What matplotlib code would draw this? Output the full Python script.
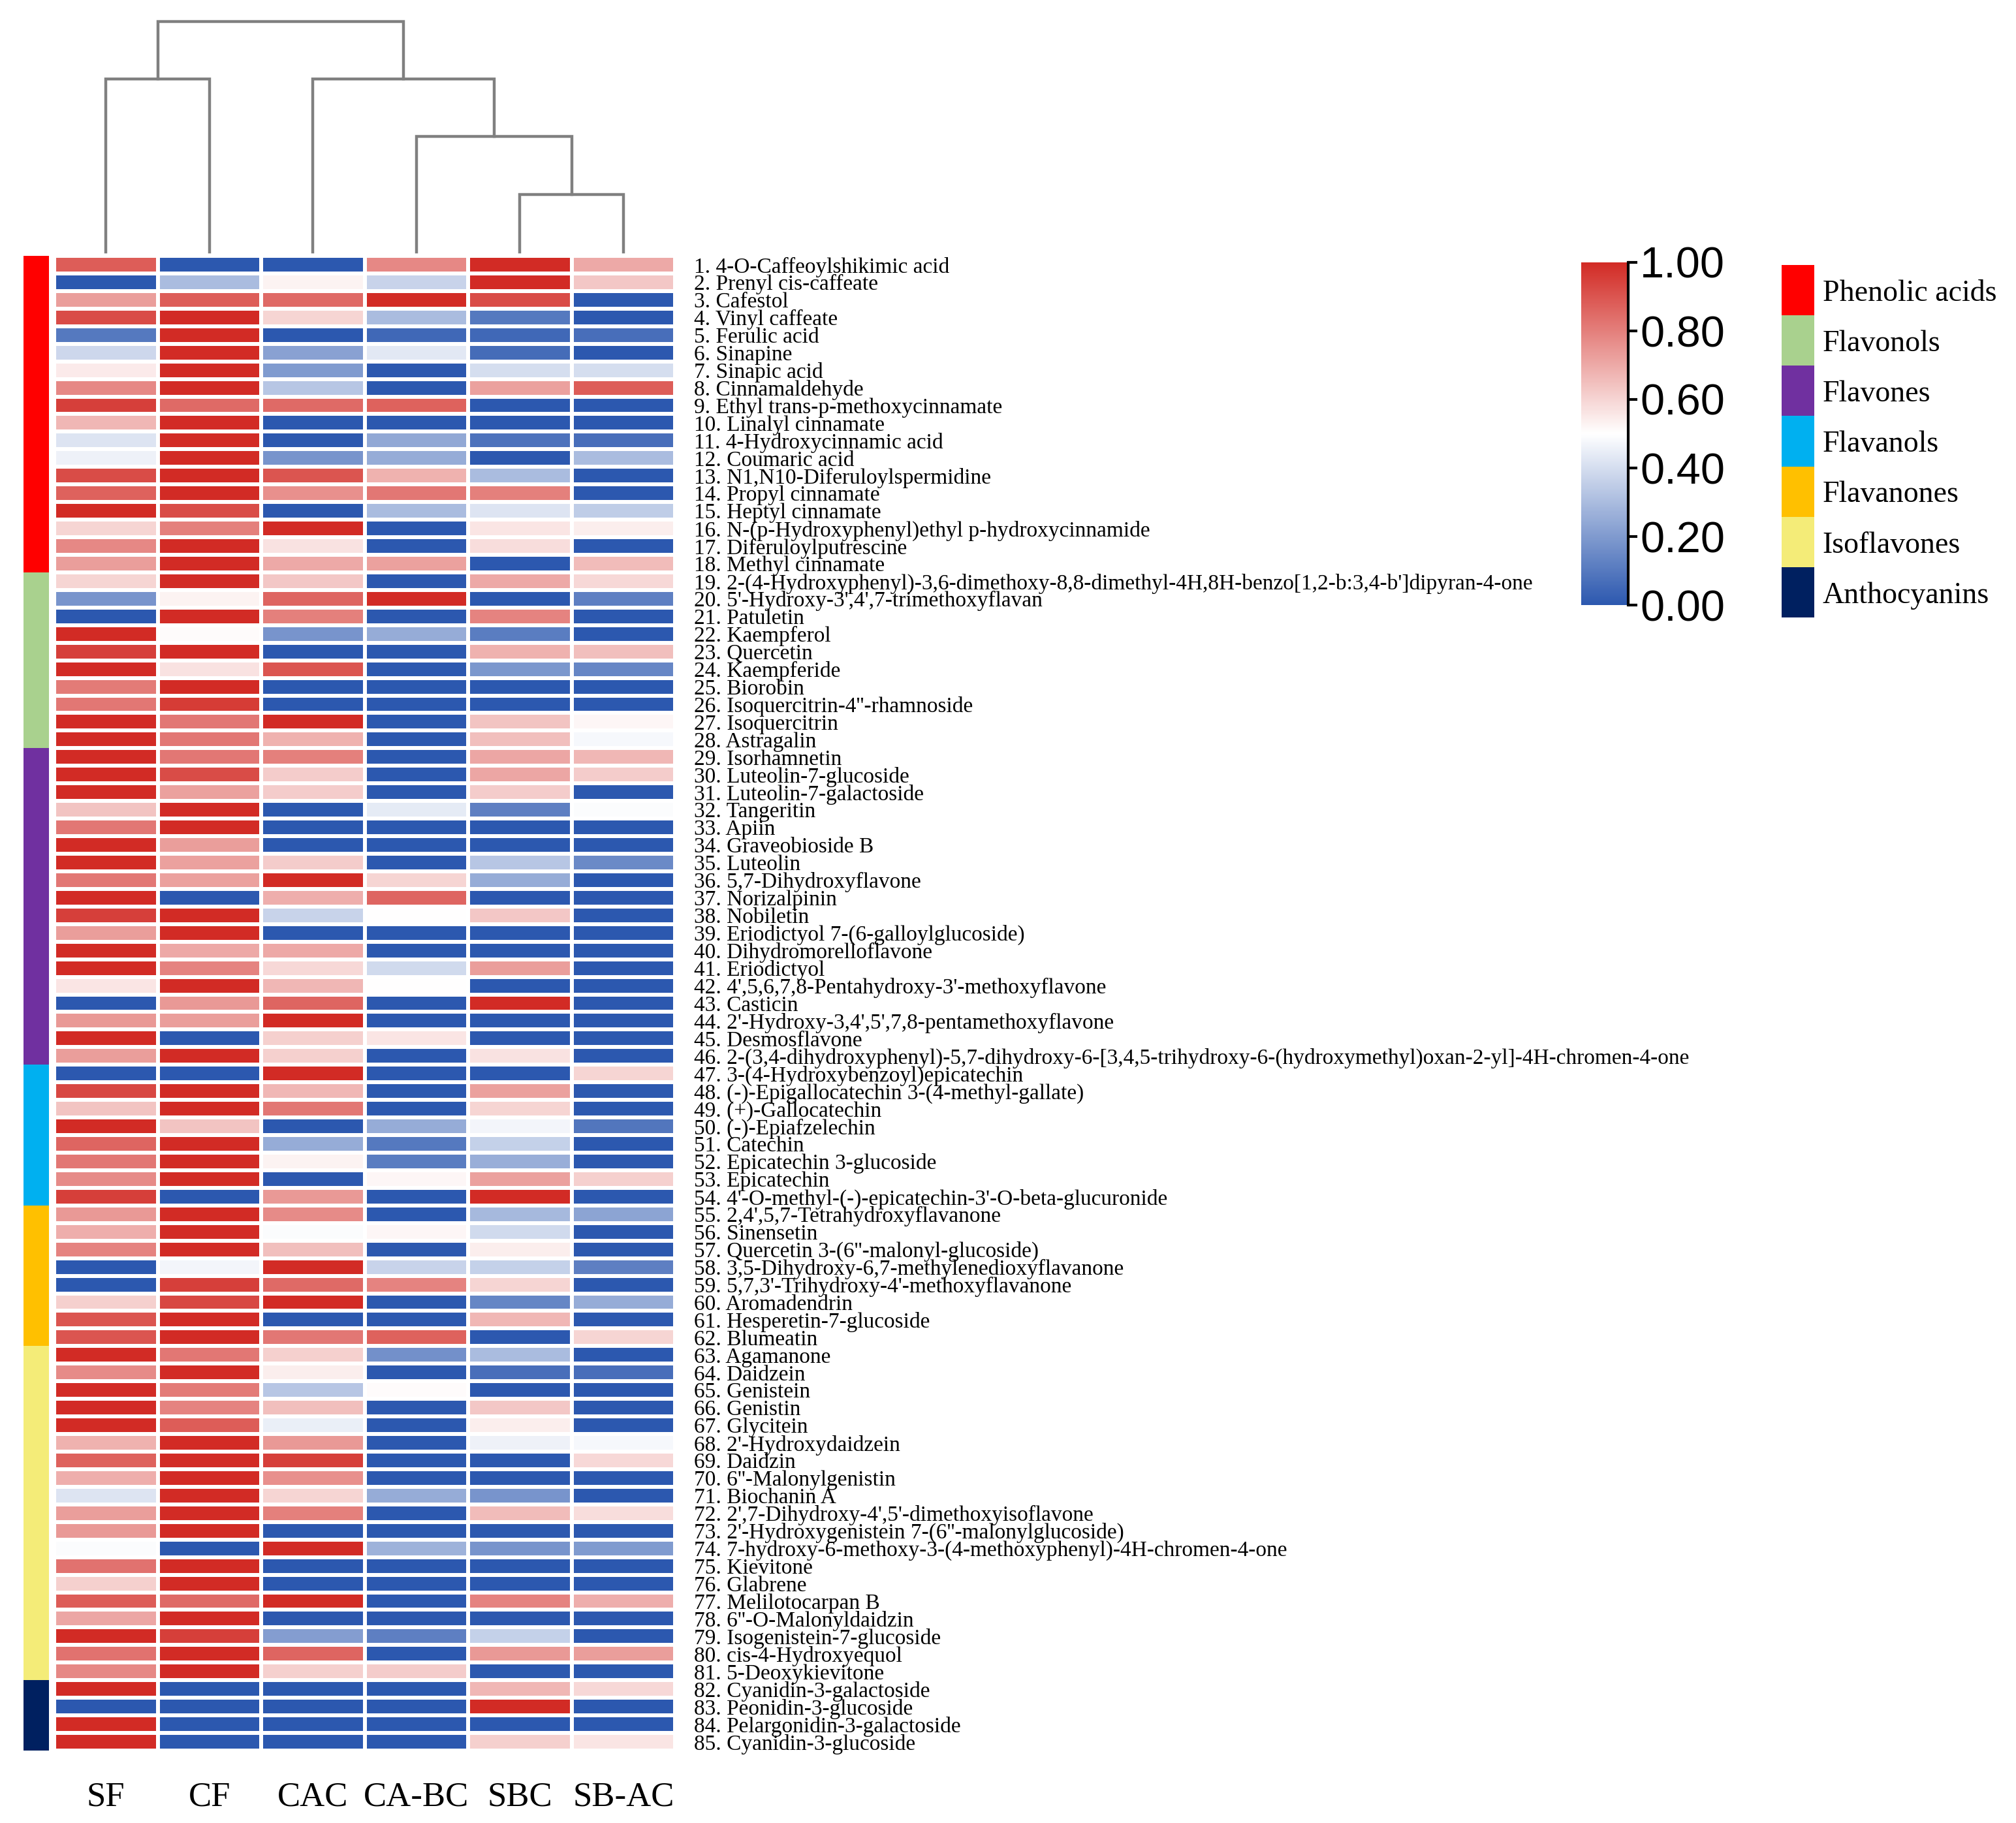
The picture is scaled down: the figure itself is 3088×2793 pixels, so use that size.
import numpy as np
import matplotlib.pyplot as plt
from matplotlib.colors import LinearSegmentedColormap, ListedColormap

samples = ["SF", "CF", "CAC", "CA-BC", "SBC", "SB-AC"]

compounds = [
    "4-O-Caffeoylshikimic acid", "Prenyl cis-caffeate", "Cafestol", "Vinyl caffeate",
    "Ferulic acid", "Sinapine", "Sinapic acid", "Cinnamaldehyde",
    "Ethyl trans-p-methoxycinnamate", "Linalyl cinnamate", "4-Hydroxycinnamic acid",
    "Coumaric acid", "N1,N10-Diferuloylspermidine", "Propyl cinnamate", "Heptyl cinnamate",
    "N-(p-Hydroxyphenyl)ethyl p-hydroxycinnamide", "Diferuloylputrescine", "Methyl cinnamate",
    "2-(4-Hydroxyphenyl)-3,6-dimethoxy-8,8-dimethyl-4H,8H-benzo[1,2-b:3,4-b']dipyran-4-one",
    "5'-Hydroxy-3',4',7-trimethoxyflavan", "Patuletin", "Kaempferol", "Quercetin",
    "Kaempferide", "Biorobin", "Isoquercitrin-4''-rhamnoside", "Isoquercitrin", "Astragalin",
    "Isorhamnetin", "Luteolin-7-glucoside", "Luteolin-7-galactoside", "Tangeritin", "Apiin",
    "Graveobioside B", "Luteolin", "5,7-Dihydroxyflavone", "Norizalpinin", "Nobiletin",
    "Eriodictyol 7-(6-galloylglucoside)", "Dihydromorelloflavone", "Eriodictyol",
    "4',5,6,7,8-Pentahydroxy-3'-methoxyflavone", "Casticin",
    "2'-Hydroxy-3,4',5',7,8-pentamethoxyflavone", "Desmosflavone",
    "2-(3,4-dihydroxyphenyl)-5,7-dihydroxy-6-[3,4,5-trihydroxy-6-(hydroxymethyl)oxan-2-yl]-4H-chromen-4-one",
    "3-(4-Hydroxybenzoyl)epicatechin", "(-)-Epigallocatechin 3-(4-methyl-gallate)",
    "(+)-Gallocatechin", "(-)-Epiafzelechin", "Catechin", "Epicatechin 3-glucoside",
    "Epicatechin", "4'-O-methyl-(-)-epicatechin-3'-O-beta-glucuronide",
    "2,4',5,7-Tetrahydroxyflavanone", "Sinensetin", "Quercetin 3-(6''-malonyl-glucoside)",
    "3,5-Dihydroxy-6,7-methylenedioxyflavanone", "5,7,3'-Trihydroxy-4'-methoxyflavanone",
    "Aromadendrin", "Hesperetin-7-glucoside", "Blumeatin", "Agamanone", "Daidzein",
    "Genistein", "Genistin", "Glycitein", "2'-Hydroxydaidzein", "Daidzin",
    "6''-Malonylgenistin", "Biochanin A", "2',7-Dihydroxy-4',5'-dimethoxyisoflavone",
    "2'-Hydroxygenistein 7-(6''-malonylglucoside)",
    "7-hydroxy-6-methoxy-3-(4-methoxyphenyl)-4H-chromen-4-one", "Kievitone", "Glabrene",
    "Melilotocarpan B", "6''-O-Malonyldaidzin", "Isogenistein-7-glucoside",
    "cis-4-Hydroxyequol", "5-Deoxykievitone", "Cyanidin-3-galactoside",
    "Peonidin-3-glucoside", "Pelargonidin-3-galactoside", "Cyanidin-3-glucoside",
]

groups = ["Phenolic acids", "Flavonols", "Flavones", "Flavanols",
          "Flavanones", "Isoflavones", "Anthocyanins"]
group_sizes = [18, 10, 18, 8, 8, 19, 4]
group_colors = ["#FF0000", "#A9D18E", "#7030A0", "#00B0F0",
                "#FFC000", "#F4EC78", "#002060"]

# scaled values (0-1) per sample, rows 1..85
SF = [.88, 0, .73, .92, .10, .38, .55, .78, .95, .67, .42, .46, .92, .87, 1, .60, .78, .73,
      .60, .18, 0, 1, .95, 1, .81, .82, 1, 1,
      1, 1, 1, .64, .82, 1, 1, .82, 1, .95, .73, 1, 1, .56, 0, .74, 1, .73,
      0, .93, .64, 1, .86, .82, .77, .95,
      .74, .69, .79, 0, 0, .61, .90, .90,
      1, .77, 1, 1, 1, .68, .87, .69, .42, .73, .74, .49, .83, .61, .88, .71, 1, .83, .78,
      1, 0, 1, 1]
CF = [0, .30, .88, 1, 1, 1, 1, 1, .85, 1, 1, 1, 1, 1, .92, .80, 1, 1,
      1, .53, 1, .51, 1, .57, 1, .96, .82, .82,
      .82, .92, .72, 1, 1, .73, .72, .72, 0, 1, 1, .70, .79, 1, .74, .73, 0, 1,
      0, 1, 1, .64, 1, 1, 1, 0,
      1, 1, 1, .47, .95, .93, 1, 1,
      .82, 1, .81, .79, .88, 1, 1, 1, 1, 1, 1, 0, 1, 1, .85, 1, .95, 1, 1,
      0, 0, 0, 0]
CAC = [0, .53, .85, .60, 0, .22, .20, .33, .85, 0, 0, .18, .90, .76, 0, 1, .57, .70,
       .63, .86, .80, .18, 0, .90, 0, 0, 1, .68,
       .80, .62, .62, 0, 0, 0, .62, 1, .69, .37, 0, .70, .59, .67, .86, 1, .61, .61,
       1, .67, .82, 0, .25, .53, 0, .74,
       .77, .49, .65, 1, .85, 1, 0, .82,
       .61, .54, .33, .65, .45, .74, .95, .76, .60, .80, 0, 1, 0, 0, 1, 0, .21, .86, .61,
       0, 0, 0, 0]
CA_BC = [.78, .37, 1, .30, .05, .43, 0, 0, .87, 0, .24, .25, .68, .82, .30, 0, 0, .72,
         0, 1, 0, .25, 0, 0, 0, 0, 0, 0,
         0, 0, 0, .44, 0, 0, 0, .60, .86, .50, 0, 0, .39, .50, 0, 0, .56, 0,
         0, 0, 0, .25, .10, .11, .52, 0,
         0, .52, 0, .37, .79, 0, 0, .87,
         .17, 0, .51, 0, 0, 0, 0, 0, .25, 0, 0, .27, 0, 0, 0, 0, .12, 0, .62,
         0, 0, 0, 0]
SBC = [1, 1, .92, .10, .05, .06, .40, .72, 0, 0, .08, 0, .30, .80, .42, .56, .58, 0,
       .70, 0, .79, .11, .68, .19, 0, 0, .64, .65,
       .71, .71, .62, .12, 0, 0, .33, .25, 0, .63, 0, 0, .73, 0, 1, 0, 0, .57,
       0, .72, .60, .47, .36, .26, .72, 1,
       .29, .39, .54, .36, .60, .14, .67, 0,
       .30, .07, 0, .63, .54, .46, 0, 0, .18, .66, 0, .18, 0, 0, .79, 0, .36, .74, 0,
       .67, 1, 0, .61]
SB_AC = [.70, .63, 0, 0, .07, 0, .40, .88, 0, 0, .07, .30, 0, 0, .35, .54, 0, .66,
         .59, .12, 0, 0, .65, .14, 0, 0, .52, .48,
         .67, .62, 0, .49, 0, 0, .15, 0, 0, 0, 0, 0, 0, 0, 0, 0, 0, 0,
         .60, 0, 0, .09, 0, 0, .61, 0,
         .23, 0, 0, .12, 0, .25, 0, .60,
         0, .07, 0, 0, 0, .48, .59, 0, 0, .58, 0, .20, 0, 0, .69, 0, 0, .73, 0,
         .59, 0, 0, .56]

# column dendrogram: (left node, right node, merge height); new nodes numbered from 6
merges = [(4, 5, 1.0), (3, 6, 2.0), (0, 1, 3.0), (2, 7, 3.0), (8, 9, 4.0)]

data = np.array([SF, CF, CAC, CA_BC, SBC, SB_AC]).T
n_rows, n_cols = data.shape
row_labels = [f"{i + 1}. {name}" for i, name in enumerate(compounds)]

W, H = 3088, 2793
fig = plt.figure(figsize=(W / 100, H / 100), dpi=100)


def px_axes(x0, y0, x1, y1):
    # box given in pixels measured from the top-left corner
    return fig.add_axes([x0 / W, 1 - y1 / H, (x1 - x0) / W, (y1 - y0) / H])


serif = "Liberation Serif"
cmap = LinearSegmentedColormap.from_list("heat", ["#2C58AF", "#FFFFFF", "#D22B25"])

# heatmap
ax = px_axes(83, 392, 1034, 2682)
mesh = ax.pcolormesh(data, cmap=cmap, vmin=0, vmax=1, edgecolors="white", linewidth=3)
ax.set_xlim(0, n_cols)
ax.set_ylim(n_rows, 0)
ax.set_xticks(np.arange(n_cols) + 0.5, samples, fontsize=38, fontfamily=serif)
ax.tick_params(axis="x", length=0, pad=34)
ax.yaxis.tick_right()
ax.set_yticks(np.arange(n_rows) + 0.5, row_labels, fontsize=24, fontfamily=serif)
ax.tick_params(axis="y", length=0, pad=21)
for s in ax.spines.values():
    s.set_visible(False)

# class strip on the left
grp_idx = np.repeat(np.arange(len(groups)), group_sizes)[:, None]
grp_cmap = ListedColormap(group_colors)
sax = px_axes(36, 392, 75, 2682)
sax.pcolormesh(grp_idx, cmap=grp_cmap, vmin=-0.5, vmax=len(groups) - 0.5)
sax.set_ylim(n_rows, 0)
sax.axis("off")

# dendrogram on top
dax = px_axes(83, 33, 1034, 386)
pos = {i: i + 0.5 for i in range(n_cols)}
hgt = {i: 0.0 for i in range(n_cols)}
for k, (a, b, h) in enumerate(merges):
    dax.plot([pos[a], pos[a], pos[b], pos[b]], [hgt[a], h, h, hgt[b]],
             color="#808080", lw=3.2, clip_on=False, solid_joinstyle="miter")
    pos[n_cols + k] = (pos[a] + pos[b]) / 2
    hgt[n_cols + k] = h
dax.set_xlim(0, n_cols)
dax.set_ylim(0, max(m[2] for m in merges))
dax.axis("off")

# colorbar
cax = px_axes(2422, 402, 2494, 927)
ticks = [0, 0.2, 0.4, 0.6, 0.8, 1.0]
cb = fig.colorbar(mesh, cax=cax, ticks=ticks)
cb.outline.set_visible(False)
cax.set_yticklabels([f"{t:.2f}" for t in ticks], fontsize=48, fontfamily="Liberation Sans")
cax.tick_params(length=10, width=3, pad=3, direction="out")
cax.plot([1, 1], [0, 1], transform=cax.transAxes, color="black", lw=3, clip_on=False)

# class legend
lax = px_axes(2729, 406, 2779, 946)
lax.pcolormesh(np.arange(len(groups))[:, None], cmap=grp_cmap, vmin=-0.5, vmax=len(groups) - 0.5)
lax.set_ylim(len(groups), 0)
lax.yaxis.tick_right()
lax.set_yticks(np.arange(len(groups)) + 0.5, groups, fontsize=33, fontfamily=serif)
lax.set_xticks([])
lax.tick_params(length=0, pad=9)
for s in lax.spines.values():
    s.set_visible(False)

fig.savefig("out.png", dpi=100)
